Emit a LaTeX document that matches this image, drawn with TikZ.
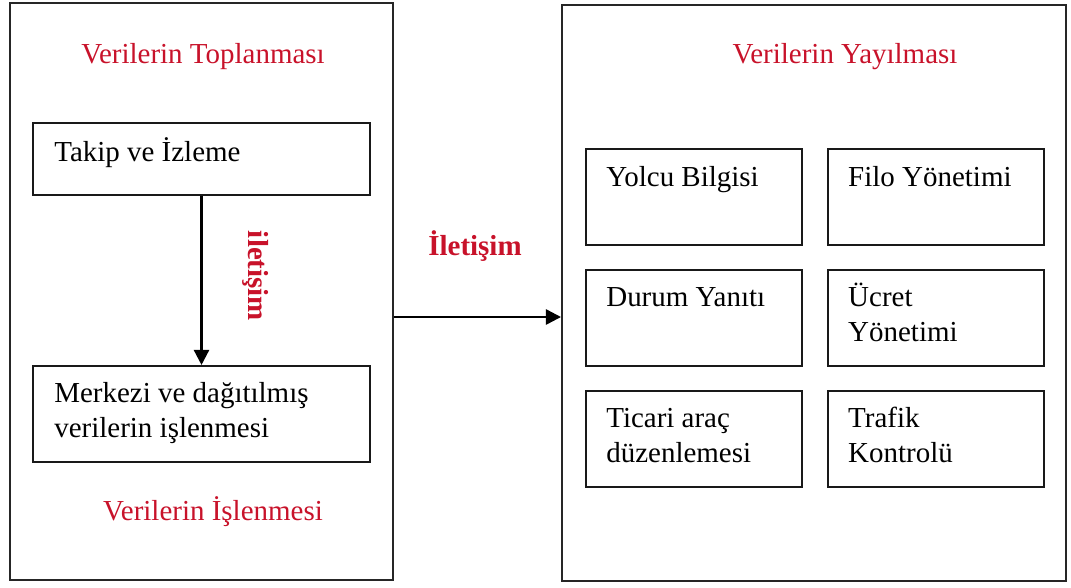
\documentclass[tikz,border=0pt]{standalone}
\usepackage{fontspec}
\setmainfont{Liberation Serif}
\usetikzlibrary{positioning,arrows.meta}
\definecolor{titlered}{RGB}{200,18,42}
\tikzset{
panel/.style={rectangle, draw=black!85, line width=1.3pt, inner sep=0pt},
taskbox/.style={rectangle, draw=black!90, line width=1.3pt, inner sep=0pt, minimum width=5.4cm, minimum height=2.4cm, node distance=0.575cm and 0.6cm},
boxtext/.style={inner sep=0pt, align=left, font=\fontsize{20.6}{25}\selectfont},
stagetitle/.style={inner sep=0pt, text=titlered, font=\fontsize{20.6}{25}\selectfont},
linktitle/.style={inner sep=0pt, text=titlered, font=\fontsize{20.6}{25}\selectfont\bfseries},
connect/.style={-{Triangle[length=0.38cm,width=0.38cm]}, line width=1.7pt}
}

\begin{document}
\begin{tikzpicture}[x=0.025cm,y=-0.025cm]
        \useasboundingbox (0,0) rectangle (1071,587);
        % collection side
        \node[panel, minimum width=9.575cm, minimum height=14.425cm] (collect) at (201.5,291.5) {};
        \node[stagetitle, anchor=base] (collecttitle) at (203,63) {Verilerin Toplanması};
        \node[taskbox, minimum width=8.425cm, minimum height=1.8cm] (takip) at (201.5,159) {};
        \node[taskbox, minimum width=8.425cm, below=4.225cm of takip] (merkezi) {};
        \node[boxtext, anchor=base west] (takiptxt) at ([shift={(22,39)}]takip.north west) {Takip ve İzleme};
        \node[boxtext, anchor=base west] (merkezitxt) at ([shift={(22,73)}]merkezi.north west) {Merkezi ve dağıtılmış\\verilerin işlenmesi};
        \node[stagetitle, anchor=base] (processtitle) at (213,520) {Verilerin İşlenmesi};
        \node[linktitle, rotate=-90, anchor=base] (innerlink) at (248,276) {iletişim};
        \draw[connect] (takip) to (merkezi);

        % dissemination side
        \node[panel, minimum width=12.6cm, minimum height=14.4cm] (spread) at (814,293) {};
        \node[stagetitle, anchor=base] (spreadtitle) at (845,63) {Verilerin Yayılması};
        \node[taskbox] (yolcu) at (694,197) {};
        \node[taskbox, right=of yolcu] (filo) {};
        \node[taskbox, below=of yolcu] (durum) {};
        \node[taskbox, right=of durum] (ucret) {};
        \node[taskbox, below=of durum] (ticari) {};
        \node[taskbox, right=of ticari] (trafik) {};
        \node[boxtext, anchor=base west] (yolcutxt) at ([shift={(21,38)}]yolcu.north west) {Yolcu Bilgisi};
        \node[boxtext, anchor=base west] (filotxt) at ([shift={(21,38)}]filo.north west) {Filo Yönetimi};
        \node[boxtext, anchor=base west] (durumtxt) at ([shift={(21,38)}]durum.north west) {Durum Yanıtı};
        \node[boxtext, anchor=base west] (ucrettxt) at ([shift={(21,73)}]ucret.north west) {Ücret\\Yönetimi};
        \node[boxtext, anchor=base west] (ticaritxt) at ([shift={(21,73)}]ticari.north west) {Ticari araç\\düzenlemesi};
        \node[boxtext, anchor=base west] (trafiktxt) at ([shift={(21,73)}]trafik.north west) {Trafik\\Kontrolü};

        % link between the two sides
        \coordinate (linkrow) at (0,317);
        \node[linktitle, anchor=base] (outerlink) at (475,255) {İletişim};
        \draw[connect] (collect.east |- linkrow) to (spread.west |- linkrow);
\end{tikzpicture}
\end{document}
